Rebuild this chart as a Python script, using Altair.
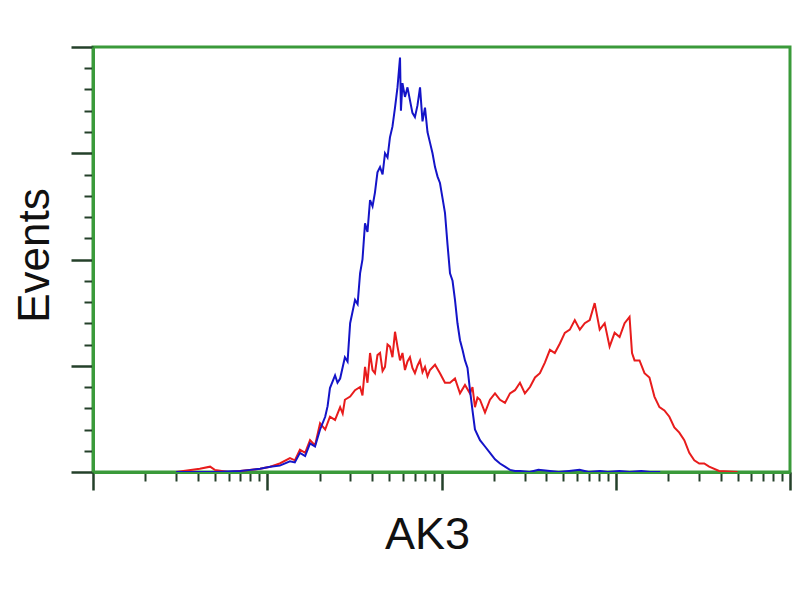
"""Flow cytometry histogram: AK3 staining vs control."""

import altair as alt
import pandas as pd

GREEN = "#3a9a3a"
TICK = "#24402a"
BLUE = "#1414c8"
RED = "#e81c1c"
FONT = "Liberation Sans"

# control (blue) trace, intensity vs events
blue_x = [3.0, 5.0, 7.0, 8.0, 9.1, 10.4, 11.8, 13.5, 14.4, 15.4, 16.5, 17.6, 18.8,
          20.1, 21.5, 22.2, 22.9, 24.5, 25.3, 26.2, 27.9, 28.9, 29.9, 31.9, 33.0,
          34.1, 35.2, 36.4, 37.6, 38.9, 40.2, 41.5, 42.9, 44.4, 45.9, 47.4, 49.0,
          50.6, 52.3, 54.1, 55.9, 57.8, 58.5, 59.7, 61.7, 63.8, 65.9, 68.1, 70.4,
          72.8, 75.3, 77.8, 80.4, 83.1, 85.9, 88.8, 91.8, 94.9, 98.0, 101.3, 104.7,
          108.3, 111.9, 115.7, 119.5, 123.5, 127.7, 132.0, 136.4, 141.0, 145.7,
          150.6, 155.6, 166.3, 177.7, 189.8, 202.8, 216.6, 231.4, 247.2, 264.1,
          283.0, 320.0, 360.0, 419.0, 470.0, 540.0, 620.0, 700.0, 812.0, 900.0,
          1050.0, 1200.0, 1400.0, 1570.0, 1800.0]
blue_y = [0, 0, 1, 2, 3, 5, 6, 10, 9, 18, 15, 27, 24,
          40, 52, 62, 79, 91, 84, 88, 108, 104, 140, 162, 158,
          187, 200, 234, 226, 256, 250, 263, 282, 287, 280, 300, 296,
          315, 325, 343, 362, 390, 340, 366, 353, 362, 350, 338, 334,
          345, 362, 330, 343, 320, 310, 300, 287, 278, 272, 258, 244,
          214, 187, 180, 162, 140, 124, 115, 105, 98, 77,
          58, 40, 30, 24, 18, 12, 8, 5, 2, 1,
          1, 0, 2, 1, 0, 1, 2, 0, 1, 0,
          1, 0, 1, 0, 0]

# AK3 (red) trace
red_x = [3.0, 4.1, 4.7, 5.0, 6.0, 7.0, 9.1, 10.4, 11.8, 13.5, 14.4, 15.4, 16.5,
         17.6, 18.8, 20.1, 21.5, 22.9, 24.5, 26.2, 27.1, 27.9, 29.9, 31.9, 34.1,
         35.2, 36.4, 37.6, 38.9, 40.2, 41.5, 42.9, 44.4, 45.9, 47.4, 49.0, 50.6,
         52.3, 54.1, 55.9, 57.8, 59.7, 61.7, 63.8, 65.9, 68.1, 70.4, 72.8, 75.3,
         77.8, 80.4, 83.1, 85.9, 91.8, 98.0, 104.7, 111.9, 119.5, 127.7, 136.4,
         145.7, 150.6, 155.6, 160.9, 166.3, 177.7, 189.8, 202.8, 216.6, 231.4,
         247.2, 264.1, 282.0, 301.0, 322.0, 344.0, 367.0, 392.0, 419.0, 447.0,
         478.0, 510.0, 545.0, 582.0, 622.0, 664.0, 709.0, 757.0, 809.0, 864.0,
         922.0, 985.0, 1052.0, 1124.0, 1200.0, 1240.0, 1282.0, 1369.0, 1462.0,
         1561.0, 1667.0, 1781.0, 1902.0, 2031.0, 2169.0, 2316.0, 2474.0, 2642.0,
         2822.0, 3013.0, 3218.0, 3437.0, 3920.0, 5000.0]
red_y = [0, 3, 5, 2, 0, 1, 3, 5, 8, 13, 11, 21, 18,
         30, 25, 46, 40, 52, 49, 61, 55, 68, 71, 77, 80,
         72, 99, 84, 112, 96, 93, 110, 112, 95, 99, 120, 118,
         108, 132, 118, 105, 112, 96, 104, 108, 98, 93, 100, 105,
         94, 99, 90, 96, 101, 93, 84, 84, 88, 74, 82,
         74, 80, 61, 70, 68, 56, 68, 74, 68, 65,
         74, 77, 84, 74, 80, 89, 93, 103, 115, 112,
         121, 131, 134, 143, 134, 140, 143, 159, 134, 140,
         118, 131, 127, 140, 146, 112, 105, 105, 93,
         89, 71, 61, 58, 52, 42, 37, 30, 18,
         11, 8, 8, 5, 1, 0]

x_major = [1, 10, 100, 1000, 10000]
x_minor = [m * d for d in (1, 10, 100, 1000) for m in range(2, 10)]
y_major = [0, 100, 200, 300, 400]
y_minor = [v for v in range(20, 400, 20) if v % 100]

frame = pd.concat(
    [
        pd.DataFrame({"intensity": red_x, "events": red_y, "series": "AK3", "order": 0}),
        pd.DataFrame({"intensity": blue_x, "events": blue_y, "series": "control", "order": 1}),
    ],
    ignore_index=True,
)

x_scale = alt.Scale(type="log", domain=[1, 10000], nice=False)
y_scale = alt.Scale(domain=[0, 400], nice=False)

lines = alt.Chart(frame).mark_line(strokeWidth=2, clip=True).encode(
    x=alt.X(
        "intensity:Q",
        scale=x_scale,
        axis=alt.Axis(
            orient="bottom", values=x_major, labels=False, grid=False,
            tickSize=18, tickWidth=2.5, tickColor=TICK,
            domainColor=GREEN, domainWidth=3,
            title="AK3", titleFont=FONT, titleFontSize=45, titleFontWeight="normal",
            titleColor="#111111", titleX=334, titleY=76, titleBaseline="alphabetic",
            titleAlign="center",
        ),
    ),
    y=alt.Y(
        "events:Q",
        scale=y_scale,
        axis=alt.Axis(
            orient="left", values=y_major, labels=False, grid=False,
            tickSize=22, tickWidth=2.5, tickColor=TICK,
            domainColor=GREEN, domainWidth=3,
            title="Events", titleFont=FONT, titleFontSize=44, titleFontWeight="normal",
            titleColor="#111111", titleX=-45, titleY=208, titleAngle=-90,
            titleBaseline="alphabetic", titleAlign="center",
        ),
    ),
    color=alt.Color(
        "series:N",
        scale=alt.Scale(domain=["AK3", "control"], range=[RED, BLUE]),
        legend=None,
    ),
    detail="series:N",
    order="order:Q",
)

minor = alt.Chart(frame).mark_line(opacity=0).encode(
    x=alt.X(
        "intensity:Q",
        scale=x_scale,
        axis=alt.Axis(
            orient="bottom", values=x_minor, labels=False, grid=False, domain=False,
            tickSize=9, tickWidth=2, tickColor=TICK, title="",
        ),
    ),
    y=alt.Y(
        "events:Q",
        scale=y_scale,
        axis=alt.Axis(
            orient="left", values=y_minor, labels=False, grid=False, domain=False,
            tickSize=9, tickWidth=2, tickColor=TICK, title="",
        ),
    ),
    detail="series:N",
)

chart = (
    alt.layer(minor, lines)
    .resolve_axis(x="independent", y="independent")
    .properties(
        width=697,
        height=425,
        autosize=alt.AutoSizeParams(type="none"),
        padding={"left": 85, "top": 39, "right": 2, "bottom": 100},
        background="white",
    )
    .configure_view(stroke=GREEN, strokeWidth=3)
)

chart.save("out.html", embed_options={"renderer": "svg", "actions": False})
